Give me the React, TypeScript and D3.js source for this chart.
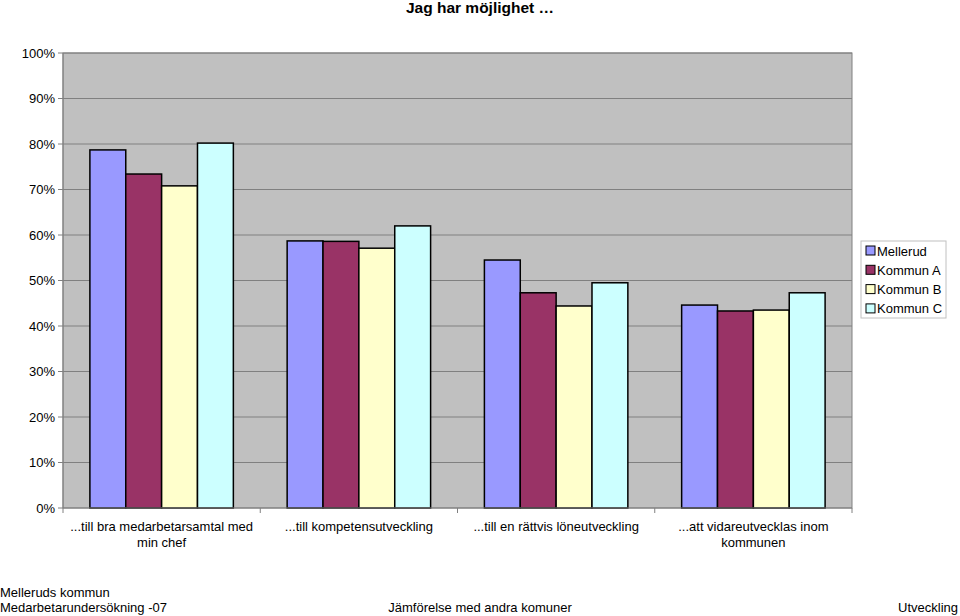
import React from "react";
import * as d3 from "d3";

const categories = [
  ["...till bra medarbetarsamtal med", "min chef"],
  ["...till kompetensutveckling"],
  ["...till en rättvis löneutveckling"],
  ["...att vidareutvecklas inom", "kommunen"],
];
const seriesNames = ["Mellerud", "Kommun A", "Kommun B", "Kommun C"];
const seriesColors = ["#9999FF", "#993366", "#FFFFCC", "#CCFFFF"];
const mellerud = [78.7, 58.7, 54.5, 44.6];
const kommunA = [73.4, 58.6, 47.3, 43.3];
const kommunB = [70.8, 57.1, 44.4, 43.5];
const kommunC = [80.2, 62.0, 49.5, 47.3];
const seriesValues = [mellerud, kommunA, kommunB, kommunC];
const yTicks = [0, 10, 20, 30, 40, 50, 60, 70, 80, 90, 100];

const W = 960;
const H = 616;
const left = 63;
const right = 852;
const top = 53;
const bottom = 508;
const font = "'Liberation Sans', Arial, sans-serif";

export default function App() {
  const y = d3.scaleLinear().domain([0, 100]).range([bottom, top]);
  const x0 = d3
    .scaleBand()
    .domain(categories.map((_, i) => String(i)))
    .range([left, right])
    .paddingInner(0)
    .paddingOuter(0);
  const bw = x0.bandwidth();
  const barW = bw / 5.5;
  const x1 = d3
    .scaleBand()
    .domain(seriesNames)
    .range([bw * 0.75 / 5.5, bw * 0.75 / 5.5 + barW * 4]);

  return (
    <svg
      width={W}
      height={H}
      style={{ position: "absolute", left: 0, top: 0, display: "block", background: "#fff" }}
      fontFamily={font}
    >
      <text x={480} y={13} textAnchor="middle" fontSize={15.5} fontWeight="bold">
        Jag har möjlighet …
      </text>
      <rect x={left} y={top} width={right - left} height={bottom - top} fill="#C0C0C0" stroke="#808080" strokeWidth={1} />
      {yTicks.map((t) => (
        <g key={t}>
          {t > 0 && (
            <line x1={left} x2={right} y1={y(t)} y2={y(t)} stroke="#808080" strokeWidth={1} />
          )}
          <line x1={left - 5} x2={left} y1={y(t)} y2={y(t)} stroke="#808080" />
          <text x={55} y={y(t) + 4.5} textAnchor="end" fontSize={13}>
            {t}%
          </text>
        </g>
      ))}
      {categories.map((c, ci) => (
        <g key={ci}>
          {seriesNames.map((s, si) => {
            const v = seriesValues[si][ci];
            const bx = (x0(String(ci)) as number) + (x1(s) as number);
            return (
              <rect
                key={s}
                x={bx}
                y={y(v)}
                width={x1.bandwidth()}
                height={bottom - y(v)}
                fill={seriesColors[si]}
                stroke="#000"
                strokeWidth={1.5}
              />
            );
          })}
          {c.map((line, li) => (
            <text
              key={li}
              x={(x0(String(ci)) as number) + bw / 2}
              y={531 + li * 16}
              textAnchor="middle"
              fontSize={13}
            >
              {line}
            </text>
          ))}
        </g>
      ))}
      <line x1={left} x2={left} y1={top} y2={bottom} stroke="#808080" />
      <line x1={left} x2={right} y1={bottom} y2={bottom} stroke="#808080" />
      {d3.range(categories.length + 1).map((i) => {
        const tx = left + i * bw;
        return <line key={i} x1={tx} x2={tx} y1={bottom} y2={bottom + 5} stroke="#808080" />;
      })}
      <rect x={861} y={241} width={85} height={77} fill="#fff" stroke="#C0C0C0" />
      {seriesNames.map((s, i) => (
        <g key={s}>
          <rect x={866} y={246 + i * 19.3} width={9} height={9} fill={seriesColors[i]} stroke="#000" />
          <text x={877} y={255.5 + i * 19.3} fontSize={13}>
            {s}
          </text>
        </g>
      ))}
      <text x={0} y={597} fontSize={13}>Melleruds kommun</text>
      <text x={0} y={612} fontSize={13}>Medarbetarundersökning -07</text>
      <text x={480} y={612} textAnchor="middle" fontSize={13}>Jämförelse med andra komuner</text>
      <text x={958} y={612} textAnchor="end" fontSize={13}>Utveckling</text>
    </svg>
  );
}
